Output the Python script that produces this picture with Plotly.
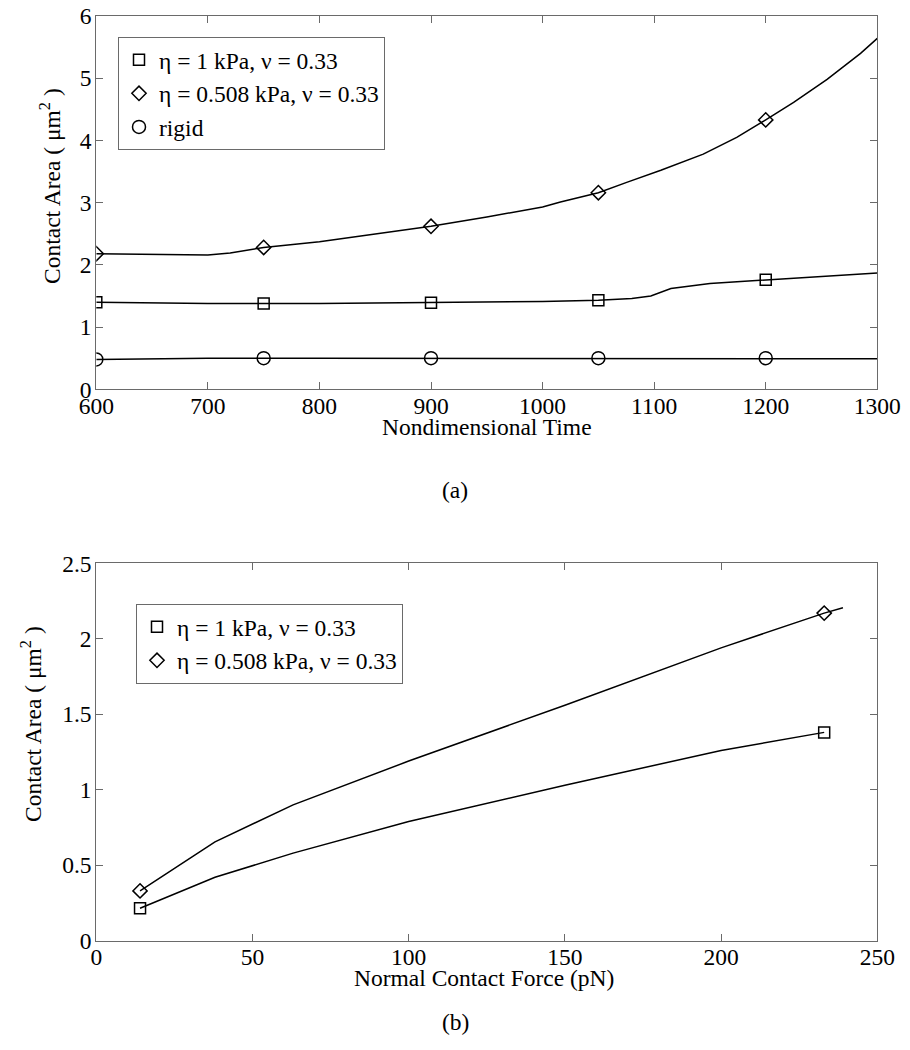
import plotly.graph_objects as go

# ---------------- Panel (a) data ----------------
time_marker = [600, 750, 900, 1050, 1200]
soft_marker = [2.18, 2.28, 2.62, 3.16, 4.33]      # eta = 0.508 kPa
stiff_marker = [1.40, 1.38, 1.39, 1.43, 1.76]     # eta = 1 kPa
rigid_marker = [0.48, 0.50, 0.50, 0.50, 0.50]     # rigid

soft_line_t = [600, 650, 700, 720, 750, 800, 850, 900, 950, 1000, 1016, 1050, 1076, 1106,
               1144, 1174, 1200, 1225, 1255, 1285, 1300]
soft_line_y = [2.18, 2.17, 2.16, 2.19, 2.28, 2.37, 2.50, 2.62, 2.77, 2.93, 3.01, 3.16, 3.33, 3.52,
               3.78, 4.05, 4.33, 4.61, 4.98, 5.40, 5.64]

stiff_line_t = [600, 700, 800, 900, 1000, 1050, 1080, 1097, 1115, 1150, 1200, 1250, 1300]
stiff_line_y = [1.40, 1.38, 1.38, 1.39, 1.41, 1.43, 1.46, 1.50, 1.62, 1.70, 1.76, 1.81, 1.87]

rigid_line_t = [600, 660, 700, 800, 900, 1000, 1100, 1200, 1240, 1300]
rigid_line_y = [0.48, 0.49, 0.50, 0.50, 0.50, 0.50, 0.50, 0.50, 0.49, 0.49]

# ---------------- Panel (b) data ----------------
force_marker = [14, 233]
stiff_b_marker = [0.215, 1.38]
soft_b_marker = [0.33, 2.17]

stiff_b_line_f = [14, 38, 63, 100, 150, 200, 233]
stiff_b_line_y = [0.215, 0.42, 0.58, 0.79, 1.03, 1.26, 1.38]
soft_b_line_f = [14, 38, 63, 100, 150, 200, 233, 239]
soft_b_line_y = [0.33, 0.655, 0.90, 1.19, 1.56, 1.94, 2.17, 2.205]

label_stiff = "η = 1 kPa, ν = 0.33"
label_soft = "η = 0.508 kPa, ν = 0.33"
label_rigid = "rigid"

FONT = "Liberation Serif, 'Times New Roman', Times, serif"
FS = 23.5
AX = "#6a6a6a"
OFF = 8                     # page body margin
W, H = 910 - OFF, 1050 - OFF


def fx(px):
    return (px - OFF) / W


def fy(py):
    return 1 - (py - OFF) / H


fig = go.Figure()

line_style = dict(color="black", width=1.5)

# panel (a) lines
for t, y in [(stiff_line_t, stiff_line_y), (soft_line_t, soft_line_y), (rigid_line_t, rigid_line_y)]:
    fig.add_trace(go.Scatter(x=t, y=y, mode="lines", line=line_style, showlegend=False,
                             xaxis="x", yaxis="y", hoverinfo="skip"))
# panel (a) markers
for y, sym, name, sz in [(stiff_marker, "square-open", label_stiff, 11),
                         (soft_marker, "diamond-open", label_soft, 11),
                         (rigid_marker, "circle-open", label_rigid, 13)]:
    fig.add_trace(go.Scatter(x=time_marker, y=y, mode="markers", name=name,
                             marker=dict(symbol=sym, size=sz, color="black", line=dict(width=1.5, color="black")),
                             xaxis="x", yaxis="y", legend="legend"))

# panel (b) lines
for f, y in [(stiff_b_line_f, stiff_b_line_y), (soft_b_line_f, soft_b_line_y)]:
    fig.add_trace(go.Scatter(x=f, y=y, mode="lines", line=line_style, showlegend=False,
                             xaxis="x2", yaxis="y2", hoverinfo="skip"))
for y, sym, name, sz in [(stiff_b_marker, "square-open", label_stiff, 11),
                         (soft_b_marker, "diamond-open", label_soft, 11)]:
    fig.add_trace(go.Scatter(x=force_marker, y=y, mode="markers", name=name,
                             marker=dict(symbol=sym, size=sz, color="black", line=dict(width=1.5, color="black")),
                             xaxis="x2", yaxis="y2", legend="legend2"))

axis_common = dict(showgrid=False, zeroline=False, showline=True, linecolor=AX, linewidth=1,
                   mirror="ticks", ticks="inside", ticklen=7, tickcolor=AX, tickwidth=1,
                   automargin=False, ticklabeloverflow="allow",
                   tickfont=dict(family=FONT, size=FS, color="black"))
xaxis_common = dict(ticklabelstandoff=-5, **axis_common)
yaxis_common = dict(ticklabelstandoff=-1, **axis_common)

xdom = [fx(96.3), fx(877.3)]
legend_common = dict(xanchor="left", yanchor="top", bordercolor=AX, borderwidth=1, bgcolor="white",
                     font=dict(family=FONT, size=FS, color="black"), tracegroupgap=0)
fig.update_layout(
    template="none",
    width=W, height=H,
    margin=dict(l=0, r=0, t=0, b=0, pad=0, autoexpand=False),
    paper_bgcolor="white", plot_bgcolor="white",
    font=dict(family=FONT, size=FS, color="black"),
    xaxis=dict(domain=xdom, range=[600, 1300], dtick=100, anchor="y", **xaxis_common),
    yaxis=dict(domain=[fy(389.3), fy(16)], range=[0, 6], dtick=1, anchor="x", **yaxis_common),
    xaxis2=dict(domain=xdom, range=[0, 250], dtick=50, anchor="y2", **xaxis_common),
    yaxis2=dict(domain=[fy(940.7), fy(563.3)], range=[0, 2.5], dtick=0.5, anchor="x2", **yaxis_common),
    legend=dict(x=fx(118), y=fy(37), **legend_common),
    legend2=dict(x=fx(136), y=fy(604), **legend_common),
    showlegend=True,
)

ann = dict(xref="paper", yref="paper", showarrow=False, font=dict(family=FONT, size=FS, color="black"),
           xanchor="center", yanchor="middle")
ytitle = "Contact Area ( μm<sup>2</sup> )"
fig.add_annotation(text="Nondimensional Time", x=fx(487), y=fy(427), **ann)
fig.add_annotation(text=ytitle, x=fx(50), y=fy(186), textangle=-90, **ann)
fig.add_annotation(text="(a)", x=fx(455), y=fy(490), **ann)
fig.add_annotation(text="Normal Contact Force (pN)", x=fx(484), y=fy(978), **ann)
fig.add_annotation(text=ytitle, x=fx(31), y=fy(724), textangle=-90, **ann)
fig.add_annotation(text="(b)", x=fx(455), y=fy(1022), **ann)

fig.write_html("out.html")
